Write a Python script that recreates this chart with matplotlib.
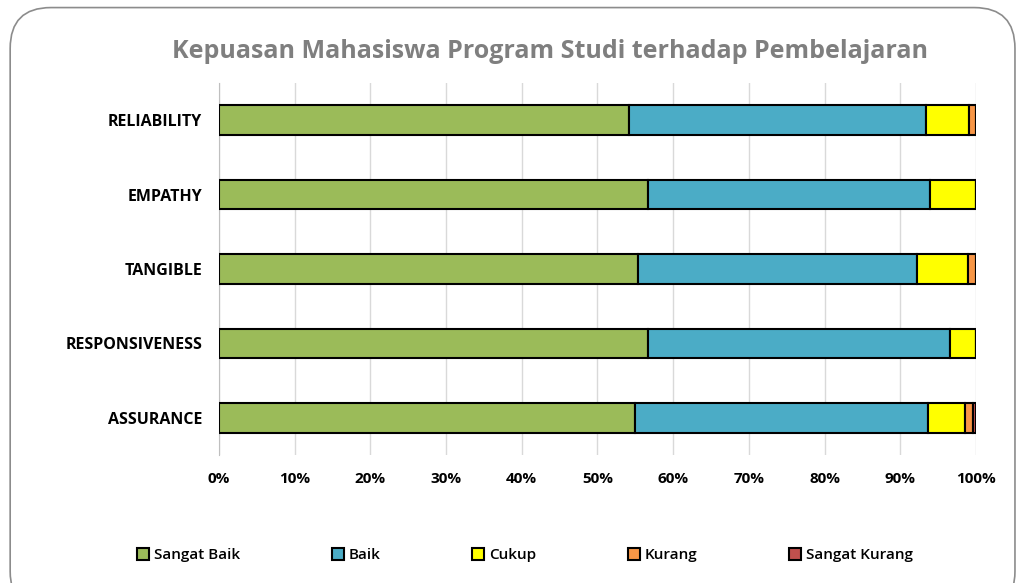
import numpy as np
import matplotlib.pyplot as plt
from matplotlib.patches import FancyBboxPatch
from matplotlib.ticker import FuncFormatter

# Daten (Prozent)
categories = ['ASSURANCE', 'RESPONSIVENESS', 'TANGIBLE', 'EMPATHY', 'RELIABILITY']
series = ['Sangat Baik', 'Baik', 'Cukup', 'Kurang', 'Sangat Kurang']
sangat_baik = [55.0, 56.7, 55.3, 56.7, 54.2]
baik = [38.6, 39.9, 36.9, 37.2, 39.2]
cukup = [5.0, 3.4, 6.8, 6.1, 5.7]
kurang = [1.0, 0.0, 1.0, 0.0, 0.9]
sangat_kurang = [0.4, 0.0, 0.0, 0.0, 0.0]
colors = ['#9BBB59', '#4BACC6', '#FFFF00', '#F79646', '#C0504D']

plt.rcParams['font.family'] = ['Open Sans', 'DejaVu Sans']

fig = plt.figure(figsize=(10.17, 5.83), dpi=100)
ax = fig.add_axes([0.2153, 0.2196, 0.7444, 0.638])

# Rahmen
frame = FancyBboxPatch((0.01, -0.05), 0.988, 1.037, boxstyle='round,pad=0,rounding_size=0.04',
                       transform=fig.transFigure, facecolor='white', edgecolor='#8c8c8c',
                       linewidth=1.2, zorder=-10, mutation_aspect=1.75)
fig.patches.append(frame)

y = np.arange(len(categories))
left = np.zeros(len(categories))
for name, vals, c in zip(series, [sangat_baik, baik, cukup, kurang, sangat_kurang], colors):
    vals = np.array(vals)
    ax.barh(y, vals, left=left, height=0.4, color=c, edgecolor='black', linewidth=1.5,
            label=name, zorder=3)
    left += vals

ax.set_xlim(0, 100)
ax.set_ylim(-0.5, 4.5)
ax.set_yticks(y)
ax.set_yticklabels(categories, fontweight='bold', fontsize=11.5)
ax.set_xticks(np.arange(0, 101, 10))
ax.xaxis.set_major_formatter(FuncFormatter(lambda v, p: f'{int(v)}%'))
for lbl in ax.get_xticklabels():
    lbl.set_fontweight('bold')
    lbl.set_fontsize(11)
ax.tick_params(length=0, pad=12)
ax.tick_params(axis='y', pad=12)
ax.grid(axis='x', color='#d9d9d9', linewidth=1, zorder=0)
for s in ['top', 'right', 'bottom']:
    ax.spines[s].set_visible(False)
ax.spines['left'].set_color('#bfbfbf')
ax.set_facecolor('none')

fig.text(0.541, 0.911, 'Kepuasan Mahasiswa Program Studi terhadap Pembelajaran',
         ha='center', va='center', fontsize=18, fontweight='bold', color='#7f7f7f')

fig.legend(loc='center', bbox_to_anchor=(0.516, 0.048), ncol=5, frameon=False,
           prop={'weight': 'semibold', 'size': 11}, handlelength=0.8,
           handleheight=0.8, handletextpad=0.3, columnspacing=6.0)

plt.savefig('out.png', dpi=100)
